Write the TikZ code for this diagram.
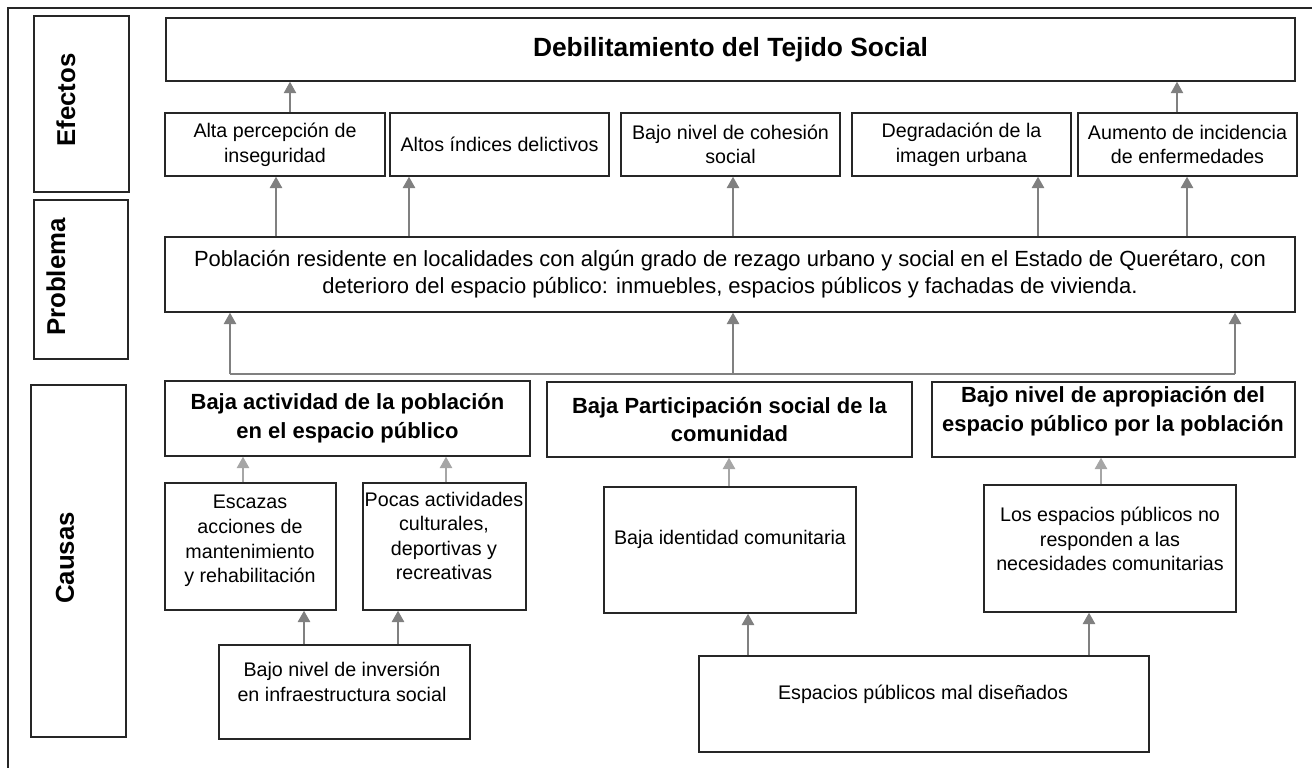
\documentclass[tikz,border=0pt]{standalone}
\usepackage{fontspec}
\setmainfont{Liberation Sans}
\usetikzlibrary{arrows.meta}

\begin{document}
\begin{tikzpicture}[x=0.02cm,y=-0.02cm]
\tikzset{
  box/.style={draw=black!85,line width=0.8pt,inner sep=0pt,align=center,font=\fontsize{11.2}{14}\selectfont},
  sz/.style 2 args={minimum width=#1*0.02cm,minimum height=#2*0.02cm},
  head/.style={box,font=\fontsize{12.5}{16.4}\selectfont\bfseries},
  side/.style={rotate=90,inner sep=0pt,font=\fontsize{14.7}{17}\selectfont\bfseries},
  txt/.style={align=center,inner sep=0pt,font=\fontsize{11.2}{14}\selectfont},
  up/.style={draw=black!50,line width=1.2pt,-{Triangle[width=7pt,length=6.5pt]}},
  thin up/.style={up,line width=0.8pt},
  light up/.style={up,draw=black!35,line width=1.1pt}
}
\useasboundingbox (0,0) rectangle (1312,768);
\draw[line width=1pt,black!85] (1312,8) -- (8,8) -- (8,768);

\node[box,sz={95}{176}] (efe) at (81.5,104) {};
\node[side] (efet) at (66,100) {Efectos};
\node[box,sz={94}{159}] (pro) at (81,279.5) {};
\node[side] (prot) at (56,277) {Problema};
\node[box,sz={95}{352}] (cau) at (78.5,561) {};
\node[side] (caut) at (65,558) {Causas};

\node[box,sz={1129}{63},font=\fontsize{15}{18}\selectfont\bfseries] (tejido) at (730.5,49.5) {Debilitamiento del Tejido Social};

\node[box,sz={220}{63}] (e1) at (275,144.5) {Alta percepción de\\inseguridad};
\node[box,sz={219}{63}] (e2) at (499.5,144.5) {Altos índices delictivos};
\node[box,sz={219}{63}] (e3) at (730.5,144.5) {Bajo nivel de cohesión\\social};
\node[box,sz={219}{63}] (e4) at (961.5,144.5) {Degradación de la\\imagen urbana};
\node[box,sz={219}{63}] (e5) at (1187.5,144.5) {Aumento de incidencia\\de enfermedades};

\node[box,sz={1130}{75},font=\fontsize{12.5}{15.3}\selectfont] (prob) at (730,274.5) {Población residente en localidades con algún grado de rezago urbano y social en el Estado de Querétaro, con\\deterioro del espacio público: inmuebles, espacios públicos y fachadas de vivienda.};

\node[head,sz={365}{75}] (c1) at (347.5,418.5) {Baja actividad de la población\\en el espacio público};
\node[head,sz={365}{75}] (c2) at (729.5,419.5) {Baja Participación social de la\\comunidad};
\node[head,sz={363}{75}] (c3) at (1113.5,419.5) {};
\node[txt,font=\fontsize{12.5}{16.4}\selectfont\bfseries] (c3t) at (1113,411) {Bajo nivel de apropiación del\\espacio público por la población};

\node[box,sz={171}{127}] (s1) at (250.5,546.5) {};
\node[txt] (s1t) at (250,541) {Escazas\\acciones de\\mantenimiento\\y rehabilitación};
\node[box,sz={163}{127}] (s2) at (444.5,546.5) {};
\node[txt] (s2t) at (444,536) {Pocas actividades\\culturales,\\deportivas y\\recreativas};
\node[box,sz={252}{126}] (s3) at (730,550) {};
\node[txt] (s3t) at (730,539) {Baja identidad comunitaria};
\node[box,sz={252}{127}] (s4) at (1110,548.5) {};
\node[txt] (s4t) at (1110,539) {Los espacios públicos no\\responden a las\\necesidades comunitarias};

\node[box,sz={251}{94}] (b1) at (344.5,692) {};
\node[txt] (b1t) at (342,682) {Bajo nivel de inversión\\en infraestructura social};
\node[box,sz={450}{96}] (b2) at (924,704) {};
\node[txt] (b2t) at (923,694) {Espacios públicos mal diseñados};

\draw[thin up] (290,0 |- e1.north) -- (290,0 |- tejido.south);
\draw[thin up] (1177,0 |- e5.north) -- (1177,0 |- tejido.south);
\foreach \x/\e in {276/e1,409/e2,733/e3,1038/e4,1187/e5}
  \draw[up] (\x,0 |- prob.north) -- (\x,0 |- \e.south);

\coordinate (busl) at (230,374);
\coordinate (busm) at (733,374);
\coordinate (busr) at (1235,374);
\draw[draw=black!50,line width=1.1pt] (busl) -- (busr);
\foreach \b in {busl,busm,busr}
  \draw[up,line width=1.1pt] (\b) -- (\b |- prob.south);

\draw[light up] (243,0 |- s1.north) -- (243,0 |- c1.south);
\draw[light up] (446,0 |- s2.north) -- (446,0 |- c1.south);
\draw[light up] (729,0 |- s3.north) -- (729,0 |- c2.south);
\draw[light up] (1101,0 |- s4.north) -- (1101,0 |- c3.south);

\draw[up] (304,0 |- b1.north) -- (304,0 |- s1.south);
\draw[up] (398,0 |- b1.north) -- (398,0 |- s2.south);
\draw[up] (748,0 |- b2.north) -- (748,0 |- s3.south);
\draw[up] (1089,0 |- b2.north) -- (1089,0 |- s4.south);
\end{tikzpicture}
\end{document}
